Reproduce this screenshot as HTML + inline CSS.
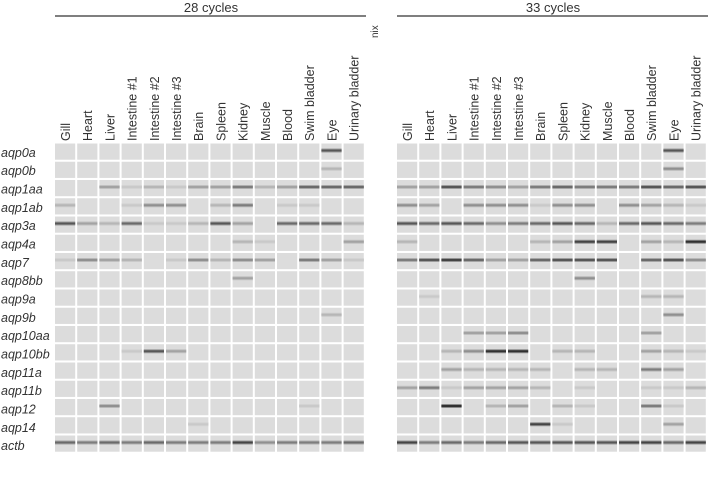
<!DOCTYPE html>
<html><head><meta charset="utf-8"><style>
html,body{margin:0;padding:0;background:#fff;width:709px;height:482px;overflow:hidden}
svg{display:block}
text{font-family:"Liberation Sans",sans-serif;fill:#333}
</style></head><body>
<svg id="s" width="709" height="482" xmlns="http://www.w3.org/2000/svg">
<g id="cells"></g>
<line x1="55" y1="16" x2="366" y2="16" stroke="#333" stroke-width="1.3"/>
<line x1="397" y1="16" x2="708" y2="16" stroke="#333" stroke-width="1.3"/>
<text x="211" y="12" font-size="13" text-anchor="middle">28 cycles</text>
<text x="553" y="12" font-size="13" text-anchor="middle">33 cycles</text>
<text transform="translate(378,38) rotate(-90)" font-size="10">nix</text>
<g font-size="12.5" font-style="italic">
<text x="1" y="157">aqp0a</text>
<text x="1" y="175">aqp0b</text>
<text x="1" y="193.5">aqp1aa</text>
<text x="1" y="212">aqp1ab</text>
<text x="1" y="230">aqp3a</text>
<text x="1" y="248.5">aqp4a</text>
<text x="1" y="267">aqp7</text>
<text x="1" y="285">aqp8bb</text>
<text x="1" y="303.5">aqp9a</text>
<text x="1" y="322">aqp9b</text>
<text x="1" y="340">aqp10aa</text>
<text x="1" y="358.5">aqp10bb</text>
<text x="1" y="377">aqp11a</text>
<text x="1" y="395">aqp11b</text>
<text x="1" y="413.5">aqp12</text>
<text x="1" y="432">aqp14</text>
<text x="1" y="450">actb</text>
</g>
<g id="lab" font-size="12.5"></g>
</svg>
<script>
var names=["Gill","Heart","Liver","Intestine #1","Intestine #2","Intestine #3","Brain","Spleen","Kidney","Muscle","Blood","Swim bladder","Eye","Urinary bladder"];
var L=[
[0,0,0,0,0,0,0,0,0,0,0,0,7,0],
[0,0,0,0,0,0,0,0,0,0,0,0,2,0],
[0,0,3,1,2,1,3,3,5,2,3,6,6,6],
[2,0,0,1,4,4,0,2,5,0,1,1,0,0],
[7,3,2,6,1,1,2,7,3,0,6,6,6,2],
[0,0,0,0,0,0,0,0,2,1,0,0,0,3],
[1,4,3,2,0,1,4,2,4,3,0,5,3,1],
[0,0,0,0,0,0,0,0,3,0,0,0,0,0],
[0,0,0,0,0,0,0,0,0,0,0,0,0,0],
[0,0,0,0,0,0,0,0,0,0,0,0,2,0],
[0,0,0,0,0,0,0,0,0,0,0,0,0,0],
[0,0,0,1,7,3,0,0,0,0,0,0,0,0],
[0,0,0,0,0,0,0,0,0,0,0,0,0,0],
[0,0,0,0,0,0,0,0,0,0,0,0,0,0],
[0,0,4,0,0,0,0,0,0,0,0,1,0,0],
[0,0,0,0,0,0,1,0,0,0,0,0,0,0],
[6,5,6,5,6,5,5,5,8,4,5,5,5,6]];
var R=[
[0,0,0,0,0,0,0,0,0,0,0,0,7,0],
[0,0,0,0,0,0,0,0,0,0,0,0,4,0],
[3,3,7,5,4,3,5,6,5,5,5,7,6,7],
[4,3,0,4,4,4,1,4,4,0,4,3,2,1],
[7,6,7,6,4,5,6,7,6,2,6,7,6,5],
[2,0,0,0,0,0,2,3,8,8,0,3,2,9],
[5,7,8,6,3,3,6,7,7,7,0,6,7,4],
[0,0,0,0,0,0,0,0,4,0,0,0,0,0],
[0,1,0,0,0,0,0,0,0,0,0,2,2,0],
[0,0,0,0,0,0,0,0,0,0,0,0,4,0],
[0,0,0,3,3,4,0,0,0,0,0,3,0,0],
[0,0,2,4,9,9,0,2,2,0,0,3,2,1],
[0,0,3,2,2,2,2,0,2,2,0,5,3,0],
[3,5,1,3,3,3,2,0,1,0,0,1,1,2],
[0,0,9,0,2,3,0,2,1,0,0,5,1,0],
[0,0,0,0,0,0,8,1,0,0,0,0,3,0],
[8,5,6,5,6,7,7,7,7,7,8,8,6,8]];
var ns="http://www.w3.org/2000/svg",g=document.getElementById("cells"),lab=document.getElementById("lab");
function r(x,y,w,h,f){var e=document.createElementNS(ns,"rect");e.setAttribute("x",x);e.setAttribute("y",y);e.setAttribute("width",w);e.setAttribute("height",h);e.setAttribute("fill",f);g.appendChild(e);}
function gray(v){v=Math.round(v);return "rgb("+v+","+v+","+v+")";}
function draw(x0,M){
 var pw=22.2;
 for(var c=0;c<14;c++){
  var x=x0+c*pw;
  var t=document.createElementNS(ns,"text");
  t.setAttribute("transform","translate("+(x+15)+",141) rotate(-90)");
  t.textContent=names[c];lab.appendChild(t);
  for(var i=0;i<17;i++){
   var y=143.5+i*18.25;
   r(x,y,20.2,16.2,"#dcdcdc");
   var v=M[i][c];
   if(v>0){
    var d=220-v*19;
    r(x,y+5,20.2,4,gray(220-v*9));
    r(x,y+6,20.2,2,gray(d));
   }
  }
 }
}
draw(55,L);draw(397,R);
</script>
</body></html>
